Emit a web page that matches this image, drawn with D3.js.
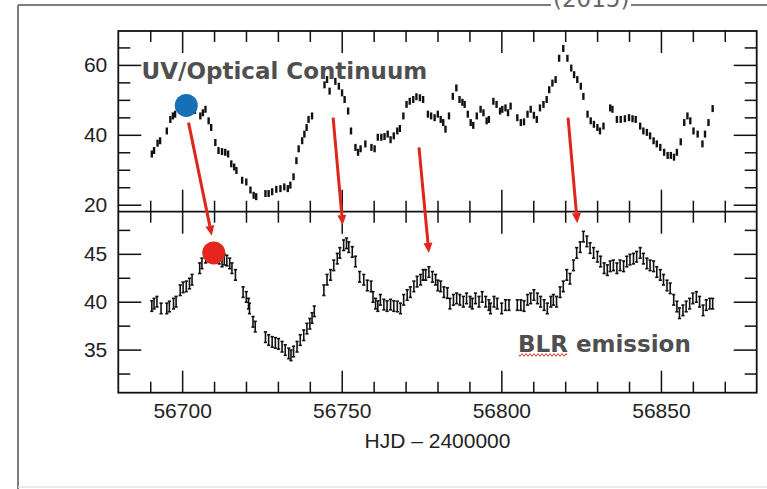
<!DOCTYPE html>
<html>
<head>
<meta charset="utf-8">
<script src="https://cdn.jsdelivr.net/npm/d3@7/dist/d3.min.js"></script>
<style>
  html, body { margin: 0; padding: 0; background: #fff; }
  svg { display: block; }
</style>
</head>
<body>
<svg id="chart" width="767" height="489"></svg>
<script>
// UV/optical continuum light curve (top panel): HJD - 2400000
const contDays = [56690.5,56691.2,56692.3,56693.1,56695.2,56696.3,56697.1,56697.8,56699.5,56701.0,56702.5,56704.0,
  56705.7,56706.5,56707.3,56708.3,56709.1,56710.4,56711.4,56712.5,56713.5,56714.4,56715.4,56716.3,56717.0,56718.8,
  56720.1,56721.4,56722.4,56723.2,56726.1,56727.1,56728.2,56729.5,56730.8,56732.0,56733.1,56733.9,56734.9,56735.8,
  56736.5,56737.6,56738.3,56739.0,56739.6,56740.7,56744.6,56745.4,56746.2,56748.0,56749.1,56750.1,56750.9,56752.0,
  56752.9,56754.3,56755.1,56755.9,56757.4,56759.3,56760.3,56761.3,56762.4,56763.4,56764.4,56765.3,56766.3,56767.4,
  56768.2,56769.3,56770.3,56771.3,56772.4,56773.4,56774.5,56775.5,56777.0,56778.0,56779.1,56780.1,56781.0,56781.8,
  56782.5,56783.6,56784.8,56785.9,56786.9,56787.8,56788.5,56789.5,56790.4,56791.2,56792.3,56793.5,56794.4,56795.4,
  56796.1,56797.5,56798.5,56799.6,56800.3,56801.3,56802.1,56802.9,56805.0,56806.1,56807.1,56808.2,56809.2,56810.2,
  56811.1,56812.1,56813.2,56814.2,56815.0,56816.0,56817.0,56818.1,56819.4,56820.7,56821.9,56822.8,56823.8,56824.9,
  56825.7,56827.0,56828.0,56829.0,56830.1,56830.9,56832.0,56834.1,56834.8,56836.2,56837.4,56838.7,56840.0,56841.1,
  56842.1,56843.5,56844.5,56845.6,56846.6,56847.7,56848.7,56849.8,56851.0,56852.1,56853.1,56854.1,56855.0,56856.2,
  56857.3,56858.3,56859.2,56860.2,56861.5,56863.0,56863.8,56864.9,56866.2];
const contFlux = [34.5,35.5,37.6,38.3,41.1,44.4,45.4,45.9,47.0,48.0,48.2,47.0,
  45.4,46.3,47.3,44.0,42.1,37.8,35.5,35.2,35.0,34.5,31.7,30.8,29.8,27.0,
  26.5,24.2,22.7,22.3,23.2,23.2,23.7,24.4,24.6,25.1,24.6,25.6,28.0,32.6,
  36.0,38.3,40.2,42.1,44.4,45.4,54.3,55.8,52.5,55.3,53.9,52.0,50.1,46.8,
  41.1,36.4,35.0,36.0,37.4,36.4,36.0,39.3,39.3,39.5,40.2,38.6,39.7,41.1,
  41.8,45.4,48.7,49.6,50.1,50.9,50.6,50.1,45.9,45.4,44.9,45.9,44.4,43.5,
  41.6,45.4,51.0,53.4,50.1,49.3,48.7,45.9,43.5,42.7,45.4,47.3,46.3,44.0,
  44.4,49.6,48.7,46.8,47.3,47.7,46.3,48.2,44.9,43.5,43.7,45.9,47.3,45.6,
  44.4,47.7,48.7,50.1,52.9,54.8,55.8,61.9,64.7,61.9,59.1,57.2,55.8,53.9,
  51.0,45.9,44.0,43.0,42.1,41.1,42.5,47.7,47.3,44.4,44.4,44.6,44.9,44.6,
  44.4,42.5,41.1,40.7,39.7,38.3,37.4,36.4,35.0,34.1,34.1,33.6,35.0,38.0,
  43.5,45.4,44.0,41.1,40.2,37.4,40.2,43.5,47.5];

// Broad-line region emission light curve (bottom panel)
const blrDays = [56690.5,56691.2,56692.1,56693.4,56695.2,56696.0,56697.3,56698.1,56699.4,56700.3,56701.3,56702.3,
  56703.1,56705.5,56706.2,56707.4,56708.5,56709.6,56710.7,56711.6,56712.5,56713.2,56714.0,56714.9,56715.6,56716.7,
  56719.1,56720.1,56720.8,56721.1,56722.2,56722.9,56726.1,56727.1,56728.2,56729.2,56730.2,56731.3,56732.3,56733.4,
  56734.1,56734.9,56736.0,56737.0,56738.1,56739.1,56740.0,56740.7,56741.4,56744.4,56745.4,56746.5,56747.5,56748.6,
  56749.4,56750.6,56751.5,56752.2,56753.3,56754.3,56755.6,56756.9,56758.0,56759.2,56759.8,56760.6,56761.3,56762.1,
  56763.2,56764.2,56765.3,56766.3,56767.4,56768.4,56769.4,56770.5,56771.5,56772.6,56773.6,56774.7,56775.5,56776.3,
  56777.3,56778.4,56779.4,56780.1,56781.0,56782.0,56783.1,56783.9,56785.0,56786.0,56787.0,56788.1,56789.1,56790.2,
  56790.9,56791.9,56793.0,56794.0,56795.1,56796.1,56796.6,56797.7,56798.7,56800.1,56801.3,56802.4,56805.0,56806.1,
  56807.1,56808.2,56809.2,56810.2,56811.3,56812.3,56813.4,56814.4,56815.5,56816.3,56817.3,56818.4,56819.4,56820.5,
  56821.5,56822.6,56823.6,56824.7,56825.7,56826.8,56827.8,56828.9,56830.1,56831.1,56832.2,56833.2,56834.1,56835.1,
  56836.2,56837.2,56838.3,56839.3,56840.3,56841.4,56842.4,56843.5,56844.5,56845.6,56846.6,56847.7,56848.7,56849.8,
  56850.8,56851.9,56852.9,56854.0,56855.0,56855.8,56856.9,56857.9,56859.0,56860.0,56861.1,56862.1,56863.2,56864.2,
  56865.3,56866.2];
const blrFlux = [39.55,39.8,40.0,39.3,39.3,39.5,39.8,40.0,41.2,41.5,41.6,41.9,
  42.3,43.5,44.0,44.6,44.9,45.1,44.8,44.5,44.2,44.4,44.3,44.0,43.5,42.8,
  41.0,40.5,39.8,39.3,37.9,37.4,36.3,36.0,35.8,35.7,35.6,35.3,34.95,34.6,
  34.4,34.8,35.3,36.0,36.5,37.2,37.7,38.3,39.0,41.2,42.3,42.8,43.8,44.5,
  45.1,45.9,46.1,45.7,45.2,44.2,42.6,42.3,41.7,41.6,40.5,39.8,39.55,40.2,
  39.7,39.55,39.7,39.55,39.5,39.3,40.2,40.7,41.0,41.6,42.1,42.3,42.8,42.8,
  43.1,42.6,42.3,41.7,41.6,41.0,40.9,39.8,40.2,40.35,40.2,40.0,40.35,40.0,
  39.8,40.35,40.0,40.5,40.0,39.65,39.3,40.0,39.8,39.3,39.65,39.65,39.65,39.65,
  39.55,40.2,40.35,40.7,40.35,40.0,39.65,39.3,40.0,40.2,40.0,41.0,41.6,42.8,
  42.4,43.8,45.1,45.7,46.8,46.3,45.6,45.1,44.7,44.2,43.5,43.3,43.7,43.8,
  43.5,43.8,43.7,44.2,44.4,44.5,44.7,45.1,44.5,44.0,43.8,43.7,43.1,42.8,
  42.3,41.7,41.4,40.2,39.5,38.8,39.1,39.5,39.8,40.35,40.5,40.0,39.1,39.65,
  39.8,39.8];

// Tick values
const xMajorTicks = [56700, 56750, 56800, 56850];
const xMinorTicks = d3.range(56690, 56871, 10);
const topMajorTicks = [20, 40, 60];
const topMinorTicks = [25, 30, 35, 45, 50, 55, 65];
const botMajorTicks = [35, 40, 45];
const botMinorTicks = [32.5, 37.5, 42.5, 47.5];

// Highlighted peaks: [day, flux]
const contPeak = [56701.3, 48.4];
const blrPeak = [56709.9, 45.1];

// Lag arrows: [start day, start continuum flux, end day, end BLR flux]
const lagArrows = [
  [56702.0, 43.5, 56709.3, 46.9],
  [56747.3, 44.9, 56750.3, 48.0],
  [56774.2, 36.4, 56777.3, 45.1],
  [56820.9, 44.9, 56823.8, 48.2]
];

const svg = d3.select("#chart");
const L = 118.3, R = 756.7, T = 31, MID = 211.7, B = 392.7;

const x = d3.scaleLinear().domain([56680, 56880]).range([L, R]);
const yTop = d3.scaleLinear().domain([18.0, 69.7]).range([MID, T]);
const yBot = d3.scaleLinear().domain([30.5, 49.4]).range([B, MID]);

// Outer slide frame
svg.append("line").attr("x1", 18).attr("x2", 767).attr("y1", 5).attr("y2", 5)
  .attr("stroke", "#7d7d7d").attr("stroke-width", 2);
svg.append("line").attr("x1", 18).attr("x2", 18).attr("y1", 5).attr("y2", 489)
  .attr("stroke", "#7d7d7d").attr("stroke-width", 2);
svg.append("line").attr("x1", 18).attr("x2", 767).attr("y1", 487).attr("y2", 487)
  .attr("stroke", "#e2e2e2").attr("stroke-width", 1.5);
svg.append("rect").attr("x", 551).attr("y", 0).attr("width", 80).attr("height", 10).attr("fill", "#fff");
svg.append("text").attr("x", 553).attr("y", 6.5)
  .attr("font-family", "DejaVu Sans, sans-serif").attr("font-size", 23)
  .attr("fill", "#666").text("(2015)");

const fontAxis = "'Liberation Sans', Arial, Helvetica, sans-serif";

function styleAxis(g) {
  g.selectAll(".domain").remove();
  g.selectAll(".tick line").attr("stroke", "#111").attr("stroke-width", 1.5);
  g.selectAll(".tick text").attr("font-family", fontAxis).attr("font-size", 21).attr("fill", "#222");
}

// x ticks: plot top, panel divider (both directions) and plot bottom
function xTicks(axisFn, yPos, vals, len, labels) {
  const a = axisFn(x).tickValues(vals).tickSize(-len).tickPadding(10)
    .tickFormat(labels ? d3.format("d") : "");
  svg.append("g").attr("transform", `translate(0,${yPos})`).call(a).call(styleAxis);
}
const minorOnly = xMinorTicks.filter(v => !xMajorTicks.includes(v));
xTicks(d3.axisTop, T, minorOnly, 11, false);
xTicks(d3.axisTop, T, xMajorTicks, 22, false);
xTicks(d3.axisBottom, MID, minorOnly, 11, false);
xTicks(d3.axisBottom, MID, xMajorTicks, 22, false);
xTicks(d3.axisTop, MID, minorOnly, 11, false);
xTicks(d3.axisTop, MID, xMajorTicks, 22, false);
xTicks(d3.axisBottom, B, minorOnly, 11, false);
xTicks(d3.axisBottom, B, xMajorTicks, 22, true);

// y ticks, left (labelled) and right
function yTicks(scale, major, minor) {
  svg.append("g").attr("transform", `translate(${L},0)`)
    .call(d3.axisLeft(scale).tickValues(minor).tickSize(-12).tickFormat("")).call(styleAxis);
  svg.append("g").attr("transform", `translate(${L},0)`)
    .call(d3.axisLeft(scale).tickValues(major).tickSize(-23).tickPadding(11).tickFormat(d3.format("d"))).call(styleAxis);
  svg.append("g").attr("transform", `translate(${R},0)`)
    .call(d3.axisRight(scale).tickValues(minor).tickSize(-12).tickFormat("")).call(styleAxis);
  svg.append("g").attr("transform", `translate(${R},0)`)
    .call(d3.axisRight(scale).tickValues(major).tickSize(-23).tickFormat("")).call(styleAxis);
}
yTicks(yTop, topMajorTicks, topMinorTicks);
yTicks(yBot, botMajorTicks, botMinorTicks);

// Plot frame and divider
svg.append("rect").attr("x", L).attr("y", T).attr("width", R - L).attr("height", B - T)
  .attr("fill", "none").attr("stroke", "#111").attr("stroke-width", 1.8);
svg.append("line").attr("x1", L).attr("x2", R).attr("y1", MID).attr("y2", MID)
  .attr("stroke", "#111").attr("stroke-width", 1.8);

// X-axis title
svg.append("text").attr("x", x(56780)).attr("y", 448).attr("text-anchor", "middle")
  .attr("font-family", fontAxis).attr("font-size", 21).attr("fill", "#222")
  .text("HJD \u2013 2400000");

// Continuum points (short error bars)
const contErr = 1.0;
svg.append("g").selectAll("line").data(d3.zip(contDays, contFlux)).join("line")
  .attr("x1", d => x(d[0])).attr("x2", d => x(d[0]))
  .attr("y1", d => yTop(d[1] - contErr)).attr("y2", d => yTop(d[1] + contErr))
  .attr("stroke", "#111").attr("stroke-width", 2.4);

// BLR points (error bars with caps)
const blrErr = 0.55;
const gb = svg.append("g").attr("stroke", "#111").attr("stroke-width", 1.6);
d3.zip(blrDays, blrFlux).forEach(d => {
  const cx = x(d[0]), y0 = yBot(d[1] - blrErr), y1 = yBot(d[1] + blrErr);
  gb.append("line").attr("x1", cx).attr("x2", cx).attr("y1", y0).attr("y2", y1);
  gb.append("line").attr("x1", cx - 1.6).attr("x2", cx + 1.6).attr("y1", y0).attr("y2", y0);
  gb.append("line").attr("x1", cx - 1.6).attr("x2", cx + 1.6).attr("y1", y1).attr("y2", y1);
});

// Panel labels
svg.append("text").attr("x", 141.5).attr("y", 79)
  .attr("font-family", "DejaVu Sans, sans-serif").attr("font-weight", "bold").attr("font-size", 23)
  .attr("fill", "#4f4f4f").text("UV/Optical Continuum");
svg.append("text").attr("x", 518).attr("y", 351.5)
  .attr("font-family", "DejaVu Sans, sans-serif").attr("font-weight", "bold").attr("font-size", 23)
  .attr("fill", "#4f4f4f").text("BLR emission");
// wavy spell-check underline beneath "BLR"
const wave = d3.range(0, 49, 1).map(i => [519 + i, 355 + 1.3 * Math.sin(i * Math.PI / 2)]);
svg.append("path").attr("d", d3.line()(wave)).attr("fill", "none")
  .attr("stroke", "#e03030").attr("stroke-width", 1);

// Peak markers
svg.append("circle").attr("cx", x(contPeak[0])).attr("cy", yTop(contPeak[1])).attr("r", 11.5)
  .attr("fill", "#1670b6");
svg.append("circle").attr("cx", x(blrPeak[0])).attr("cy", yBot(blrPeak[1])).attr("r", 11.5)
  .attr("fill", "#e4261c");

// Lag arrows
const red = "#e0251b";
lagArrows.forEach(a => {
  const x0 = x(a[0]), y0 = yTop(a[1]), x1 = x(a[2]), y1 = yBot(a[3]);
  const ang = Math.atan2(y1 - y0, x1 - x0);
  const head = 10, hw = 4.5;
  const bx = x1 - head * Math.cos(ang), by = y1 - head * Math.sin(ang);
  svg.append("line").attr("x1", x0).attr("y1", y0).attr("x2", bx).attr("y2", by)
    .attr("stroke", red).attr("stroke-width", 3);
  const px = -Math.sin(ang) * hw, py = Math.cos(ang) * hw;
  svg.append("path")
    .attr("d", `M${x1},${y1}L${bx + px},${by + py}L${bx - px},${by - py}Z`)
    .attr("fill", red);
});
</script>
</body>
</html>
